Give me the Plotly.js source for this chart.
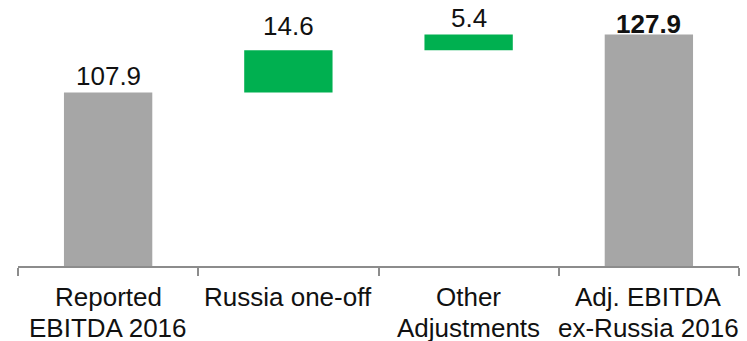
<!DOCTYPE html>
<html>
<head>
<meta charset="utf-8">
<script src="https://cdn.plot.ly/plotly-3.0.1.min.js"></script>
<style>
  html, body { margin: 0; padding: 0; background: #ffffff; }
  #chart { width: 747px; height: 341px; }
</style>
</head>
<body>
<div id="chart"></div>
<script>
// EBITDA bridge: reported 2016 -> adjusted ex-Russia 2016
const categories = ['Reported<br>EBITDA 2016', 'Russia one-off', 'Other<br>Adjustments', 'Adj. EBITDA<br>ex-Russia 2016'];
const measures = ['absolute', 'relative', 'relative', 'total'];
const values = [107.9, 14.6, 5.4, 127.9];
const valueLabels = ['107.9', '14.6', '5.4', '<b>127.9</b>'];

const GREY = '#A6A6A6';
const GREEN = '#00B050';
const AXIS = '#8C8C8C';
const INK = '#111111';
const FONT = 'Liberation Sans, Arial, sans-serif';
const FONT_SIZE = 26;

// running top of each bar, used to place the value labels
const tops = [];
let run = 0;
values.forEach((v, i) => {
  if (measures[i] === 'absolute') run = v;
  else if (measures[i] === 'relative') run += v;
  tops.push(run);
});

const labelShift = [0, 7, 0, -6];

const trace = {
  type: 'waterfall',
  x: categories,
  y: values.map((v, i) => measures[i] === 'total' ? 0 : v),
  measure: measures,
  width: 0.49,
  textinfo: 'none',
  hoverinfo: 'skip',
  connector: { visible: false },
  increasing: { marker: { color: GREEN } },
  decreasing: { marker: { color: '#C00000' } },
  totals: { marker: { color: GREY } }
};

// value labels above the bars
const annotations = categories.map((c, i) => ({
  x: c,
  y: tops[i],
  xref: 'x',
  yref: 'y',
  text: valueLabels[i],
  showarrow: false,
  yanchor: 'bottom',
  yshift: labelShift[i],
  font: { family: FONT, size: FONT_SIZE, color: INK }
}));

// category names under the axis, one annotation per line for tight leading
const PLOT_H = 266;
const lineCentres = [297, 328];   // px from top of figure
categories.forEach(c => {
  c.split('<br>').forEach((line, k) => {
    annotations.push({
      x: c,
      xref: 'x',
      yref: 'paper',
      y: -(lineCentres[k] - PLOT_H) / PLOT_H,
      yanchor: 'middle',
      text: line,
      showarrow: false,
      font: { family: FONT, size: FONT_SIZE, color: INK }
    });
  });
});

const layout = {
  width: 747,
  height: 341,
  margin: { l: 18, r: 8, t: 0, b: 75 },
  paper_bgcolor: '#ffffff',
  plot_bgcolor: '#ffffff',
  showlegend: false,
  xaxis: {
    type: 'category',
    range: [-0.5, 3.5],
    showline: true,
    linecolor: AXIS,
    linewidth: 2,
    ticks: 'outside',
    tickson: 'boundaries',
    ticklen: 8,
    tickwidth: 2,
    tickcolor: AXIS,
    showticklabels: false,
    showgrid: false,
    zeroline: false,
    fixedrange: true
  },
  yaxis: {
    range: [48.1, 139.8],
    visible: false,
    showgrid: false,
    zeroline: false,
    fixedrange: true
  },
  annotations: annotations
};

Plotly.newPlot('chart', [trace], layout, { displayModeBar: false, staticPlot: true });
</script>
</body>
</html>
